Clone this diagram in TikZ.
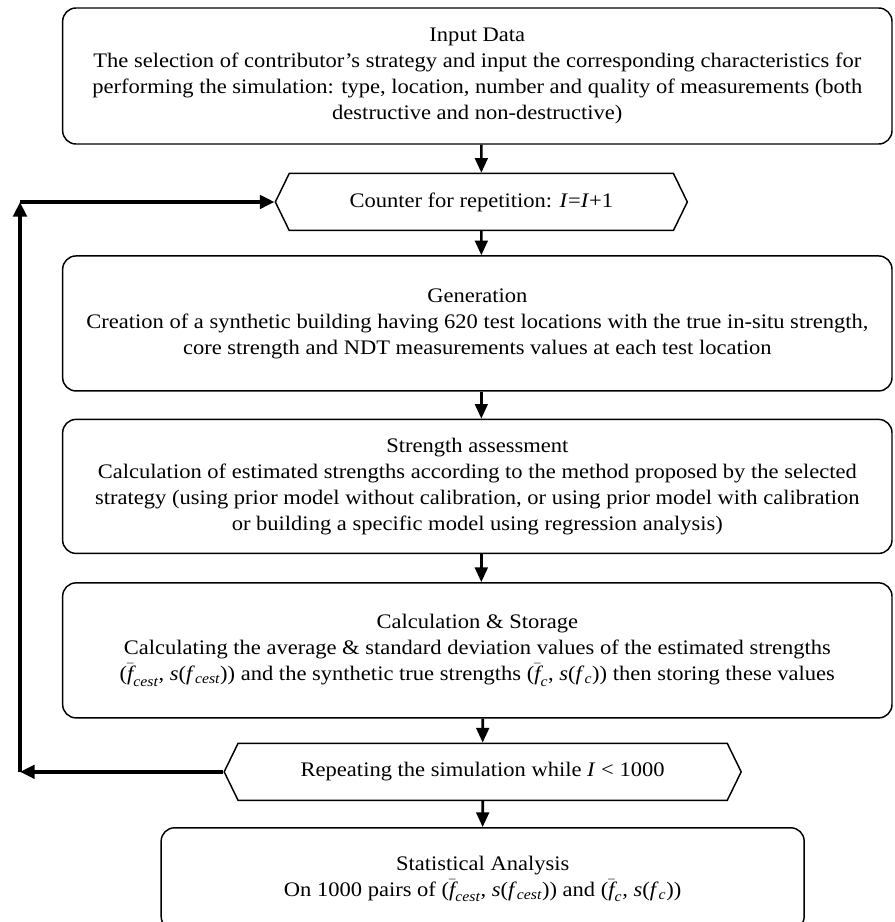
\documentclass[tikz,border=0pt]{standalone}
\usepackage{amsmath}
\usepackage{fontspec}
\setmainfont[FakeStretch=1.09]{Liberation Serif}
\usetikzlibrary{arrows.meta,positioning,shapes.symbols}
\newcommand{\meanf}[1]{$\bar{\textit{f}}_{\textit{#1}}$}
\newcommand{\sdevf}[1]{\textit{s}(\textit{f}$_{\textit{#1}}$)}
\tikzset{
  flowbox/.style={draw, line width=1.1pt, rounded corners=10pt, align=center,
    minimum width=622pt, font=\fontsize{15.5}{19.5}\selectfont, inner sep=3pt},
  hexbox/.style={draw, line width=1.1pt, signal, signal to=east and west,
    signal pointer angle=128, align=center, minimum height=42.75pt,
    font=\fontsize{15.5}{19.5}\selectfont, inner sep=3pt},
  flowarrow/.style={-{Triangle[length=11pt,width=9.5pt]}, line width=2pt},
  looparrow/.style={-{Triangle[length=11pt,width=10pt]}, line width=3pt}
}
\begin{document}
\begin{tikzpicture}
  \useasboundingbox (0,0) rectangle (671.25pt,-691.5pt);
  \node[flowbox, minimum height=102pt] (input) at (358pt,-57pt)
    {Input Data\\The selection of contributor’s strategy and input the corresponding characteristics for\\
     performing the simulation: type, location, number and quality of measurements (both\\
     destructive and non-destructive)};
  \node[hexbox, minimum width=309pt, below=21pt of input, xshift=3pt] (counter)
    {Counter for repetition: \textit{I}=\textit{I}+1};
  \node[flowbox, minimum height=101.25pt, below=18pt of counter, xshift=-3pt] (gen)
    {Generation\\Creation of a synthetic building having 620 test locations with the true in-situ strength,\\
     core strength and NDT measurements values at each test location};
  \node[flowbox, minimum height=100.5pt, below=20.25pt of gen] (assess)
    {Strength assessment\\Calculation of estimated strengths according to the method proposed by the selected\\
     strategy (using prior model without calibration, or using prior model with calibration\\
     or building a specific model using regression analysis)};
  \node[flowbox, minimum height=101.25pt, below=21pt of assess] (calc)
    {Calculation \& Storage\\Calculating the average \& standard deviation values of the estimated strengths\\
     (\meanf{cest}, \sdevf{cest}) and the synthetic true strengths (\meanf{c}, \sdevf{c}) then storing these values};
  \node[hexbox, minimum width=387.75pt, below=18pt of calc, xshift=4pt] (repeat)
    {Repeating the simulation while \textit{I} < 1000};
  \node[flowbox, minimum width=482.25pt, minimum height=76.5pt, below=19.5pt of repeat] (stat)
    {Statistical Analysis\\On 1000 pairs of (\meanf{cest}, \sdevf{cest}) and (\meanf{c}, \sdevf{c})};
  % main flow
  \draw[flowarrow] (input.south -| counter) -- (counter);
  \draw[flowarrow] (counter) -- (counter |- gen.north);
  \draw[flowarrow] (gen.south -| counter) -- (counter |- assess.north);
  \draw[flowarrow] (assess.south -| counter) -- (counter |- calc.north);
  \draw[flowarrow] (calc.south -| repeat) -- (repeat);
  \draw[flowarrow] (repeat) -- (stat);
  % loop back
  \coordinate (lowturn) at (15pt,0 |- repeat.west);
  \coordinate (highturn) at (15pt,0 |- counter.west);
  \draw[looparrow] (repeat.west) -- (lowturn);
  \draw[looparrow] (lowturn) -- (highturn);
  \draw[looparrow] (highturn) -- (counter.west);
\end{tikzpicture}
\end{document}
